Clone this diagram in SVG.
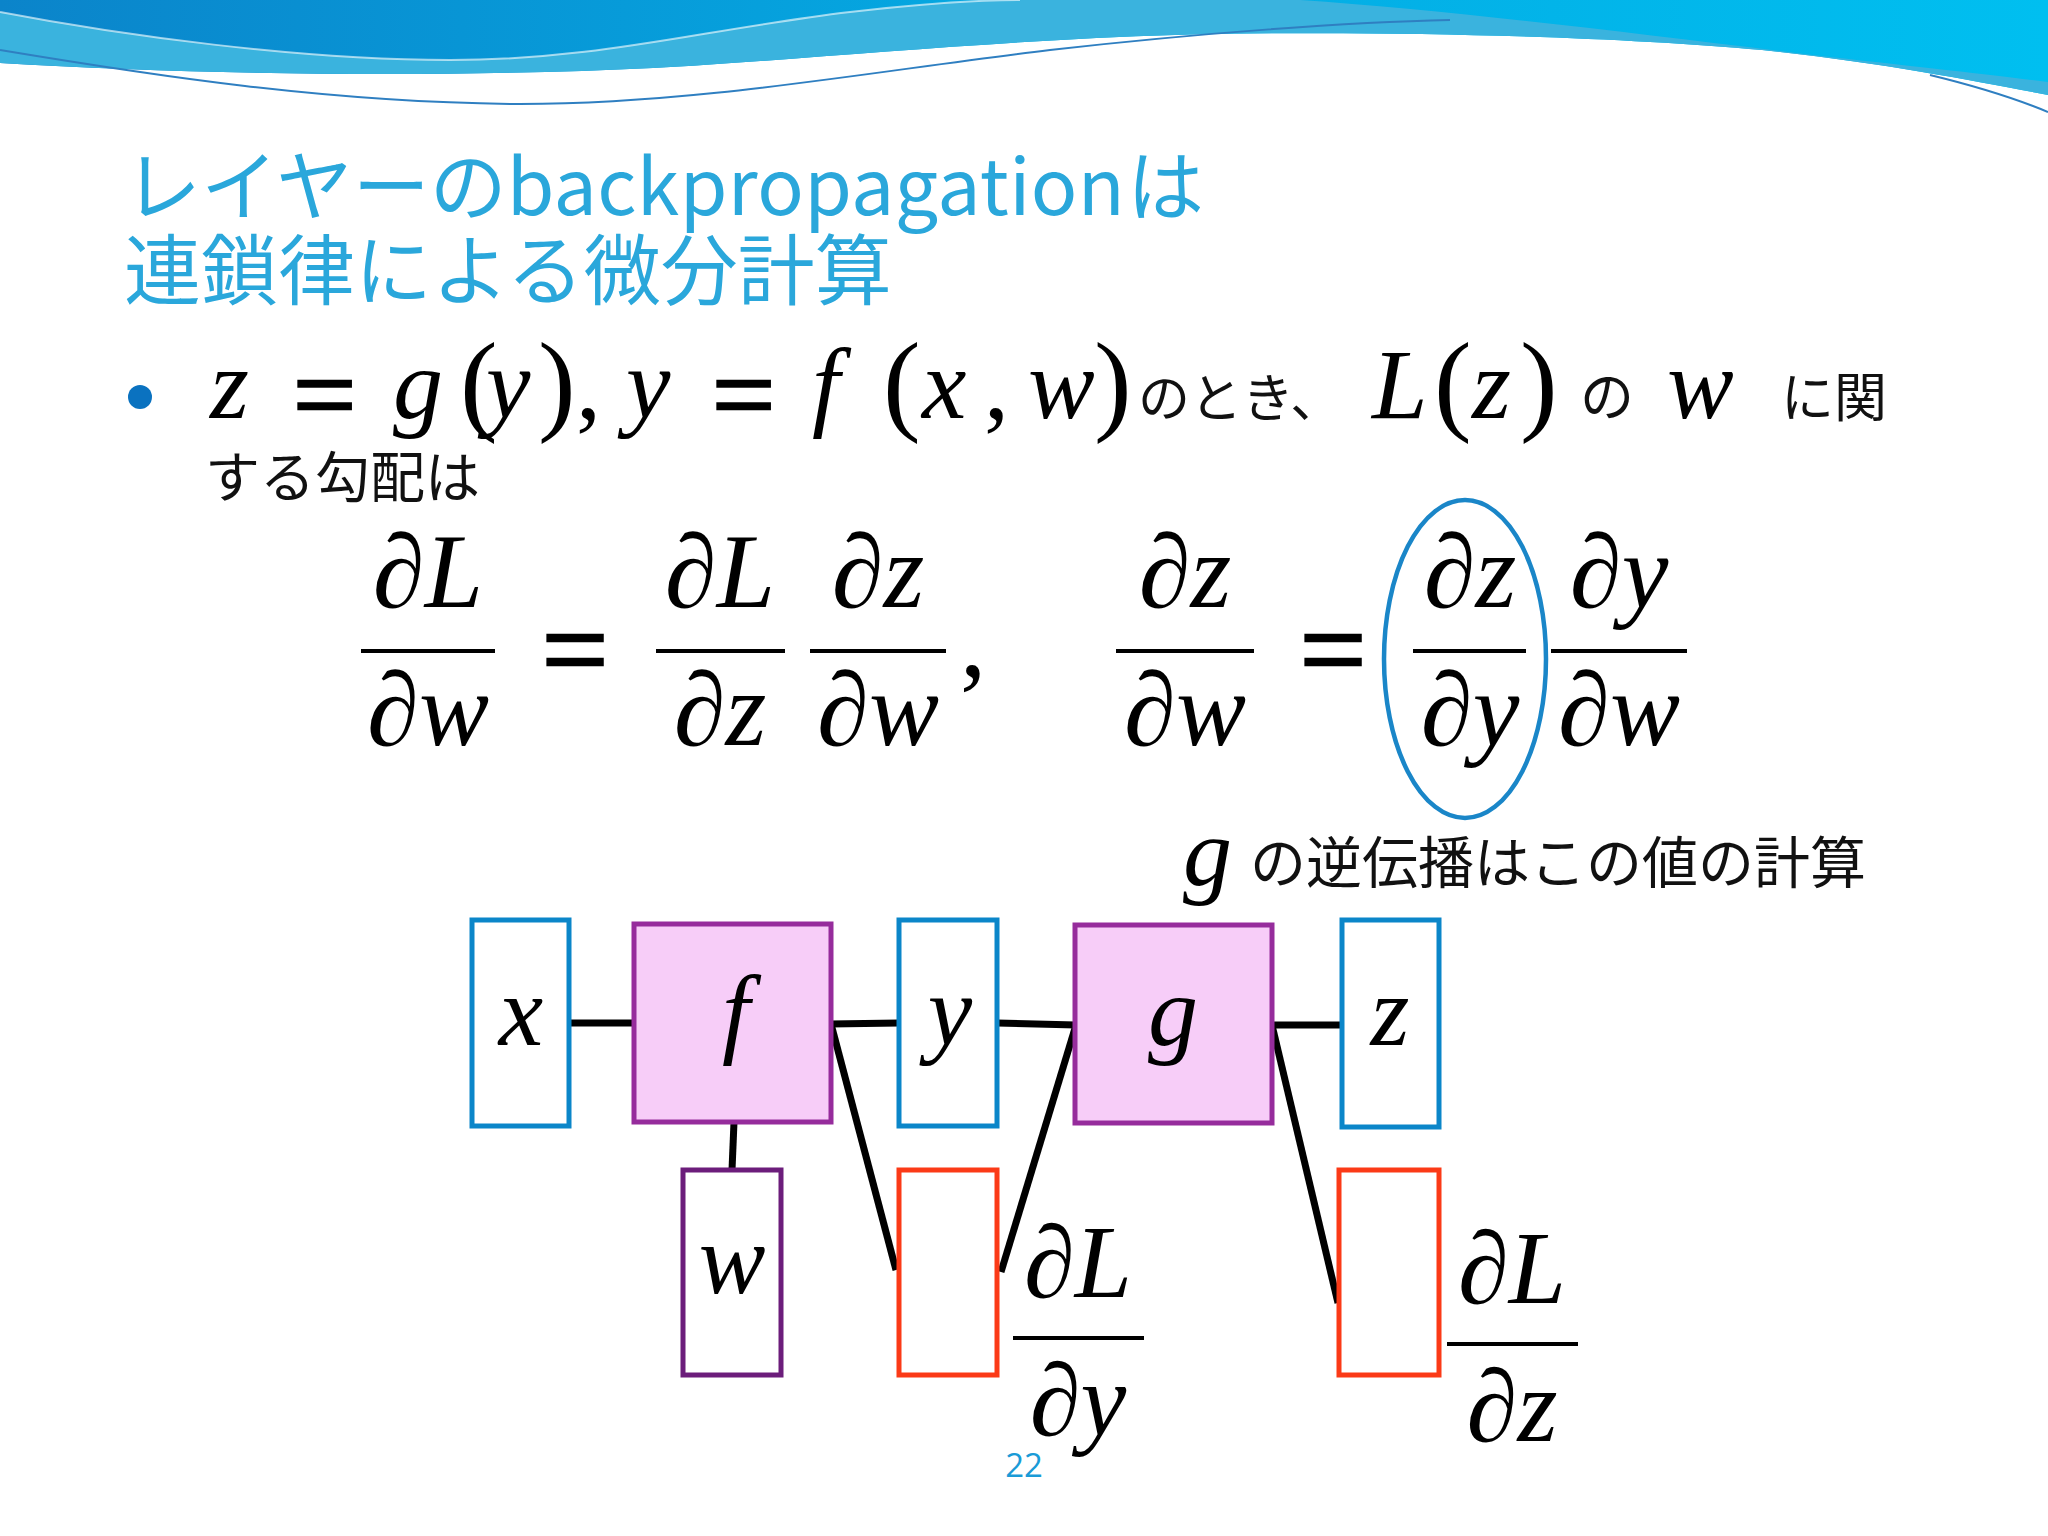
<svg xmlns="http://www.w3.org/2000/svg" width="2048" height="1536" viewBox="0 0 2048 1536">
<defs>
<linearGradient id="hdr" x1="0" y1="0" x2="1" y2="0">
<stop offset="0" stop-color="#0b84ca"/>
<stop offset="0.45" stop-color="#05a6e0"/>
<stop offset="1" stop-color="#00bff0"/>
</linearGradient>
<style>
.math{font-family:"Liberation Serif","DejaVu Serif",serif;font-style:italic;fill:#000}
.num{font-family:"Liberation Serif","DejaVu Serif",serif;fill:#000}
.eq{stroke:#000;stroke-width:2.5}
.jp{font-family:"Noto Sans CJK JP","Noto Sans",sans-serif;fill:#111}
.title{font-family:"Noto Sans CJK JP","Noto Sans",sans-serif;fill:#2aa7db;font-size:77px}
.bar{fill:#000}
.blue{fill:#fff;stroke:#0b86c9;stroke-width:5}
.op{fill:#f7cdf8;stroke:#962c9c;stroke-width:5}
.wbox{fill:#fff;stroke:#6c1d7b;stroke-width:5}
.red{fill:#fff;stroke:#fb3a17;stroke-width:5}
.conn{stroke:#000;stroke-width:7;fill:none}
</style>
</defs>
<rect width="2048" height="1536" fill="#fff"/>
<g id="header">
<path d="M0,0 H2048 V95 C1980,82 1880,62 1762,50 C1600,35 1350,30 1175,35 C1000,40 800,60 653,68 C450,78 200,75 0,63 Z" fill="url(#hdr)"/>
<path d="M0,12 C120,35 300,60 450,60 C600,60 700,30 850,12 C920,4 980,0 1020,0 L1300,0 C1450,10 1650,35 1830,57 C1930,68 2000,76 2048,82 V95 C1980,82 1880,62 1762,50 C1600,35 1350,30 1175,35 C1000,40 800,60 653,68 C450,78 200,75 0,63 Z" fill="#3ab3de"/>
<path d="M0,12 C120,35 300,60 450,60 C600,60 700,30 850,12 C920,4 980,0 1020,0" fill="none" stroke="#fff" stroke-opacity="0.6" stroke-width="2"/>
<path d="M0,50 C150,75 330,103 520,104 C700,104 880,70 1050,50 C1200,33 1350,22 1450,20" fill="none" stroke="#2f7fc1" stroke-width="2"/>
<path d="M1930,75 Q2000,92 2048,112" fill="none" stroke="#2f7fc1" stroke-width="2"/>
</g>
<g id="title">
<text class="title" x="124" y="215">レイヤーの<tspan textLength="618" lengthAdjust="spacing">backpropagation</tspan><tspan x="1127">は</tspan></text>
<text class="title" x="124" y="299">連鎖律による微分計算</text>
</g>
<g id="bullet">
<circle cx="140" cy="397" r="12" fill="#0a72c0"/>
<text class="math" font-size="100" y="418"><tspan x="210">z</tspan><tspan x="393">g</tspan><tspan x="486">y</tspan><tspan x="626">y</tspan><tspan x="812">f</tspan><tspan x="922">x</tspan><tspan x="1028">w</tspan><tspan x="1372">L</tspan><tspan x="1472">z</tspan><tspan x="1667">w</tspan></text>
<text class="num eq" font-size="112" y="432"><tspan x="293">=</tspan><tspan x="712">=</tspan></text>
<text class="num" font-size="113" y="420"><tspan x="460">(</tspan><tspan x="538">)</tspan><tspan x="883">(</tspan><tspan x="1094">)</tspan><tspan x="1434">(</tspan><tspan x="1520">)</tspan></text>
<text class="num" font-size="100" y="418"><tspan x="576">,</tspan><tspan x="984">,</tspan></text>
<text class="jp" font-size="52" x="1138" y="417">のとき、</text>
<text class="jp" font-size="54" x="1580" y="417">の</text>
<text class="jp" font-size="53" x="1781" y="417">に関</text>
<text class="jp" font-size="55" x="205" y="497">する勾配は</text>
</g>
<g id="equations">
<g class="math" font-size="105" text-anchor="middle">
<text x="428" y="607">∂L</text><text x="428" y="745">∂w</text>
<text x="720" y="607">∂L</text><text x="720" y="745">∂z</text>
<text x="878" y="607">∂z</text><text x="878" y="745">∂w</text>
<text x="1185" y="607">∂z</text><text x="1185" y="745">∂w</text>
<text x="1470" y="607">∂z</text><text x="1470" y="745">∂y</text>
<text x="1619" y="607">∂y</text><text x="1619" y="745">∂w</text>
</g>
<rect class="bar" x="361" y="649" width="134" height="4"/>
<rect class="bar" x="656" y="649" width="129" height="4"/>
<rect class="bar" x="810" y="649" width="136" height="4"/>
<rect class="bar" x="1116" y="649" width="138" height="4"/>
<rect class="bar" x="1413" y="649" width="113" height="4"/>
<rect class="bar" x="1551" y="649" width="136" height="4"/>
<text class="num eq" font-size="118" text-anchor="middle" y="690"><tspan x="575">=</tspan><tspan x="1333">=</tspan></text>
<text class="num" font-size="105" x="960" y="676">,</text>
<ellipse id="highlight" cx="1465" cy="659" rx="81" ry="159" fill="none" stroke="#1a86c8" stroke-width="4.5"/>
</g>
<g id="annotation">
<text class="math" font-size="98" x="1183" y="885">g</text>
<text class="jp" font-size="56" x="1250" y="883">の逆伝播はこの値の計算</text>
</g>
<g id="connectors">
<line class="conn" x1="570" y1="1023" x2="636" y2="1023"/>
<line class="conn" x1="830" y1="1024" x2="899" y2="1023"/>
<line class="conn" x1="997" y1="1023" x2="1076" y2="1025"/>
<line class="conn" x1="1270" y1="1025" x2="1342" y2="1025"/>
<line class="conn" x1="831" y1="1024" x2="896" y2="1270"/>
<line class="conn" x1="1076" y1="1025" x2="1001" y2="1272"/>
<line class="conn" x1="1272" y1="1025" x2="1338" y2="1303"/>
<line class="conn" x1="734" y1="1122" x2="732" y2="1170"/>
</g>
<g id="node-x"><rect class="blue" x="472" y="920" width="97" height="206"/><text class="math" font-size="100" x="521" y="1045" text-anchor="middle">x</text></g>
<g id="node-f"><rect class="op" x="634" y="924" width="197" height="198"/><text class="math" font-size="100" x="736" y="1045" text-anchor="middle">f</text></g>
<g id="node-y"><rect class="blue" x="899" y="920" width="98" height="206"/><text class="math" font-size="100" x="950" y="1045" text-anchor="middle">y</text></g>
<g id="node-g"><rect class="op" x="1075" y="925" width="197" height="198"/><text class="math" font-size="100" x="1173" y="1045" text-anchor="middle">g</text></g>
<g id="node-z"><rect class="blue" x="1342" y="920" width="97" height="207"/><text class="math" font-size="100" x="1390" y="1045" text-anchor="middle">z</text></g>
<g id="node-w"><rect class="wbox" x="683" y="1170" width="98" height="205"/><text class="math" font-size="100" x="732" y="1293" text-anchor="middle">w</text></g>
<g id="node-dy"><rect class="red" x="899" y="1170" width="98" height="205"/></g>
<g id="node-dz"><rect class="red" x="1339" y="1170" width="100" height="205"/></g>
<g id="grad-labels">
<g class="math" font-size="103" text-anchor="middle">
<text x="1078" y="1297">∂L</text><text x="1078" y="1435">∂y</text>
<text x="1512" y="1303">∂L</text><text x="1512" y="1441">∂z</text>
</g>
<rect class="bar" x="1013" y="1336" width="131" height="4"/>
<rect class="bar" x="1447" y="1342" width="131" height="4"/>
</g>
<text x="1024" y="1477" text-anchor="middle" font-family="Open Sans, Noto Sans, sans-serif" font-size="33" fill="#1a9bd7">22</text>
</svg>
